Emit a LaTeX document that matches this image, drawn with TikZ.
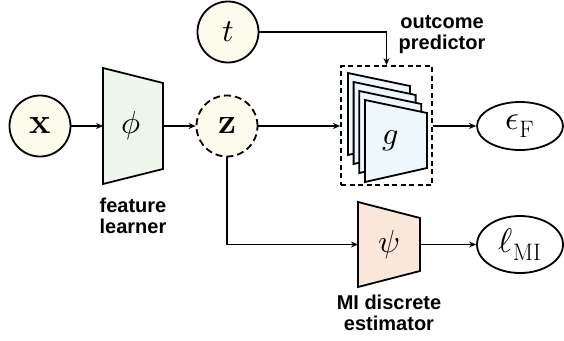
\documentclass[tikz,border=0pt]{standalone}
\usepackage{fontspec}
\usepackage{unicode-math}
\setmathfont{Latin Modern Math}
\newfontfamily\lblfont{Liberation Sans}
\usetikzlibrary{arrows.meta,shapes.geometric}
\definecolor{cream}{HTML}{FDFBEC}
\definecolor{phigreen}{HTML}{EEF6EC}
\definecolor{gblue}{HTML}{EDF7FC}
\definecolor{psipeach}{HTML}{FBE8DB}
\tikzset{
  arr/.style={line width=1.6pt,-{Stealth[length=7pt,width=6pt]}},
  var/.style={circle,draw,line width=1.8pt,fill=cream,minimum size=61pt,inner sep=0pt,font=\fontsize{32}{36}\selectfont},
  bvar/.style={var,font=\fontsize{36}{40}\selectfont},
  dvar/.style={bvar,dash pattern=on 7pt off 4pt},
  outnode/.style={ellipse,draw,line width=1.8pt,fill=white,inner sep=0pt,font=\fontsize{34}{38}\selectfont},
  trap/.style={draw,line width=1.8pt,line join=miter},
  mlabel/.style={font=\fontsize{32}{36}\selectfont,inner sep=0pt},
  caption/.style={font=\lblfont\bfseries\fontsize{20}{21}\selectfont,align=center,inner sep=0pt}
}
\begin{document}
\begin{tikzpicture}[x=1pt,y=-1pt]
\useasboundingbox (0,0) rectangle (564,340);
% variables
\node[bvar] (x) at (40,126) {$\mathbf{x}$};
\node[var] (t) at (228,32) {$t$};
\node[dvar] (z) at (227,126) {$\mathbf{z}$};
% feature learner
\draw[trap,fill=phigreen] (103,68) -- (163,83) -- (163,169) -- (103,184) -- cycle;
\node[mlabel] (phi) at (131,126) {$\phi$};
\coordinate (phiL) at (103,126);
\coordinate (phiR) at (163,126);
\node[caption] (fl) at (133,216) {feature\\learner};
% outcome predictor
\node[draw,line width=1.8pt,dash pattern=on 5pt off 3.5pt,minimum width=91pt,minimum height=119pt,inner sep=0pt] (box) at (386.5,125.5) {};
\foreach \k in {3,2,1,0}{
  \begin{scope}[shift={(-5.7*\k,-9*\k)}]
    \draw[trap,fill=gblue] (365,100) -- (427,113) -- (427,168) -- (365,182) -- cycle;
  \end{scope}
}
\node[mlabel] (g) at (391,141) {$g$};
\node[caption] (op) at (442,35) {outcome\\predictor};
% MI estimator
\draw[trap,fill=psipeach] (358,202) -- (420,218) -- (420,271) -- (358,287) -- cycle;
\node[mlabel] (psi) at (389,245) {$\psi$};
\coordinate (psiL) at (358,244.5);
\coordinate (psiR) at (420,244.5);
\node[caption] (mi) at (389,313) {MI discrete\\estimator};
% outputs
\node[outnode,minimum width=86pt,minimum height=48pt] (eF) at (520,126) {$\epsilon_{\mathrm{F}}$};
\node[outnode,minimum width=86pt,minimum height=57pt] (lMI) at (520,244.5) {$\ell_{\mathrm{MI}}$};
% connectors
\draw[arr] (x) -- (phiL);
\draw[arr] (phiR) -- (z);
\draw[arr] (z) -- (box.west |- z);
\draw[arr] (t) -| (box.north);
\draw[arr] (box.east |- eF) -- (eF);
\draw[arr] (z) |- (psiL);
\draw[arr] (psiR) -- (lMI);
\end{tikzpicture}
\end{document}
